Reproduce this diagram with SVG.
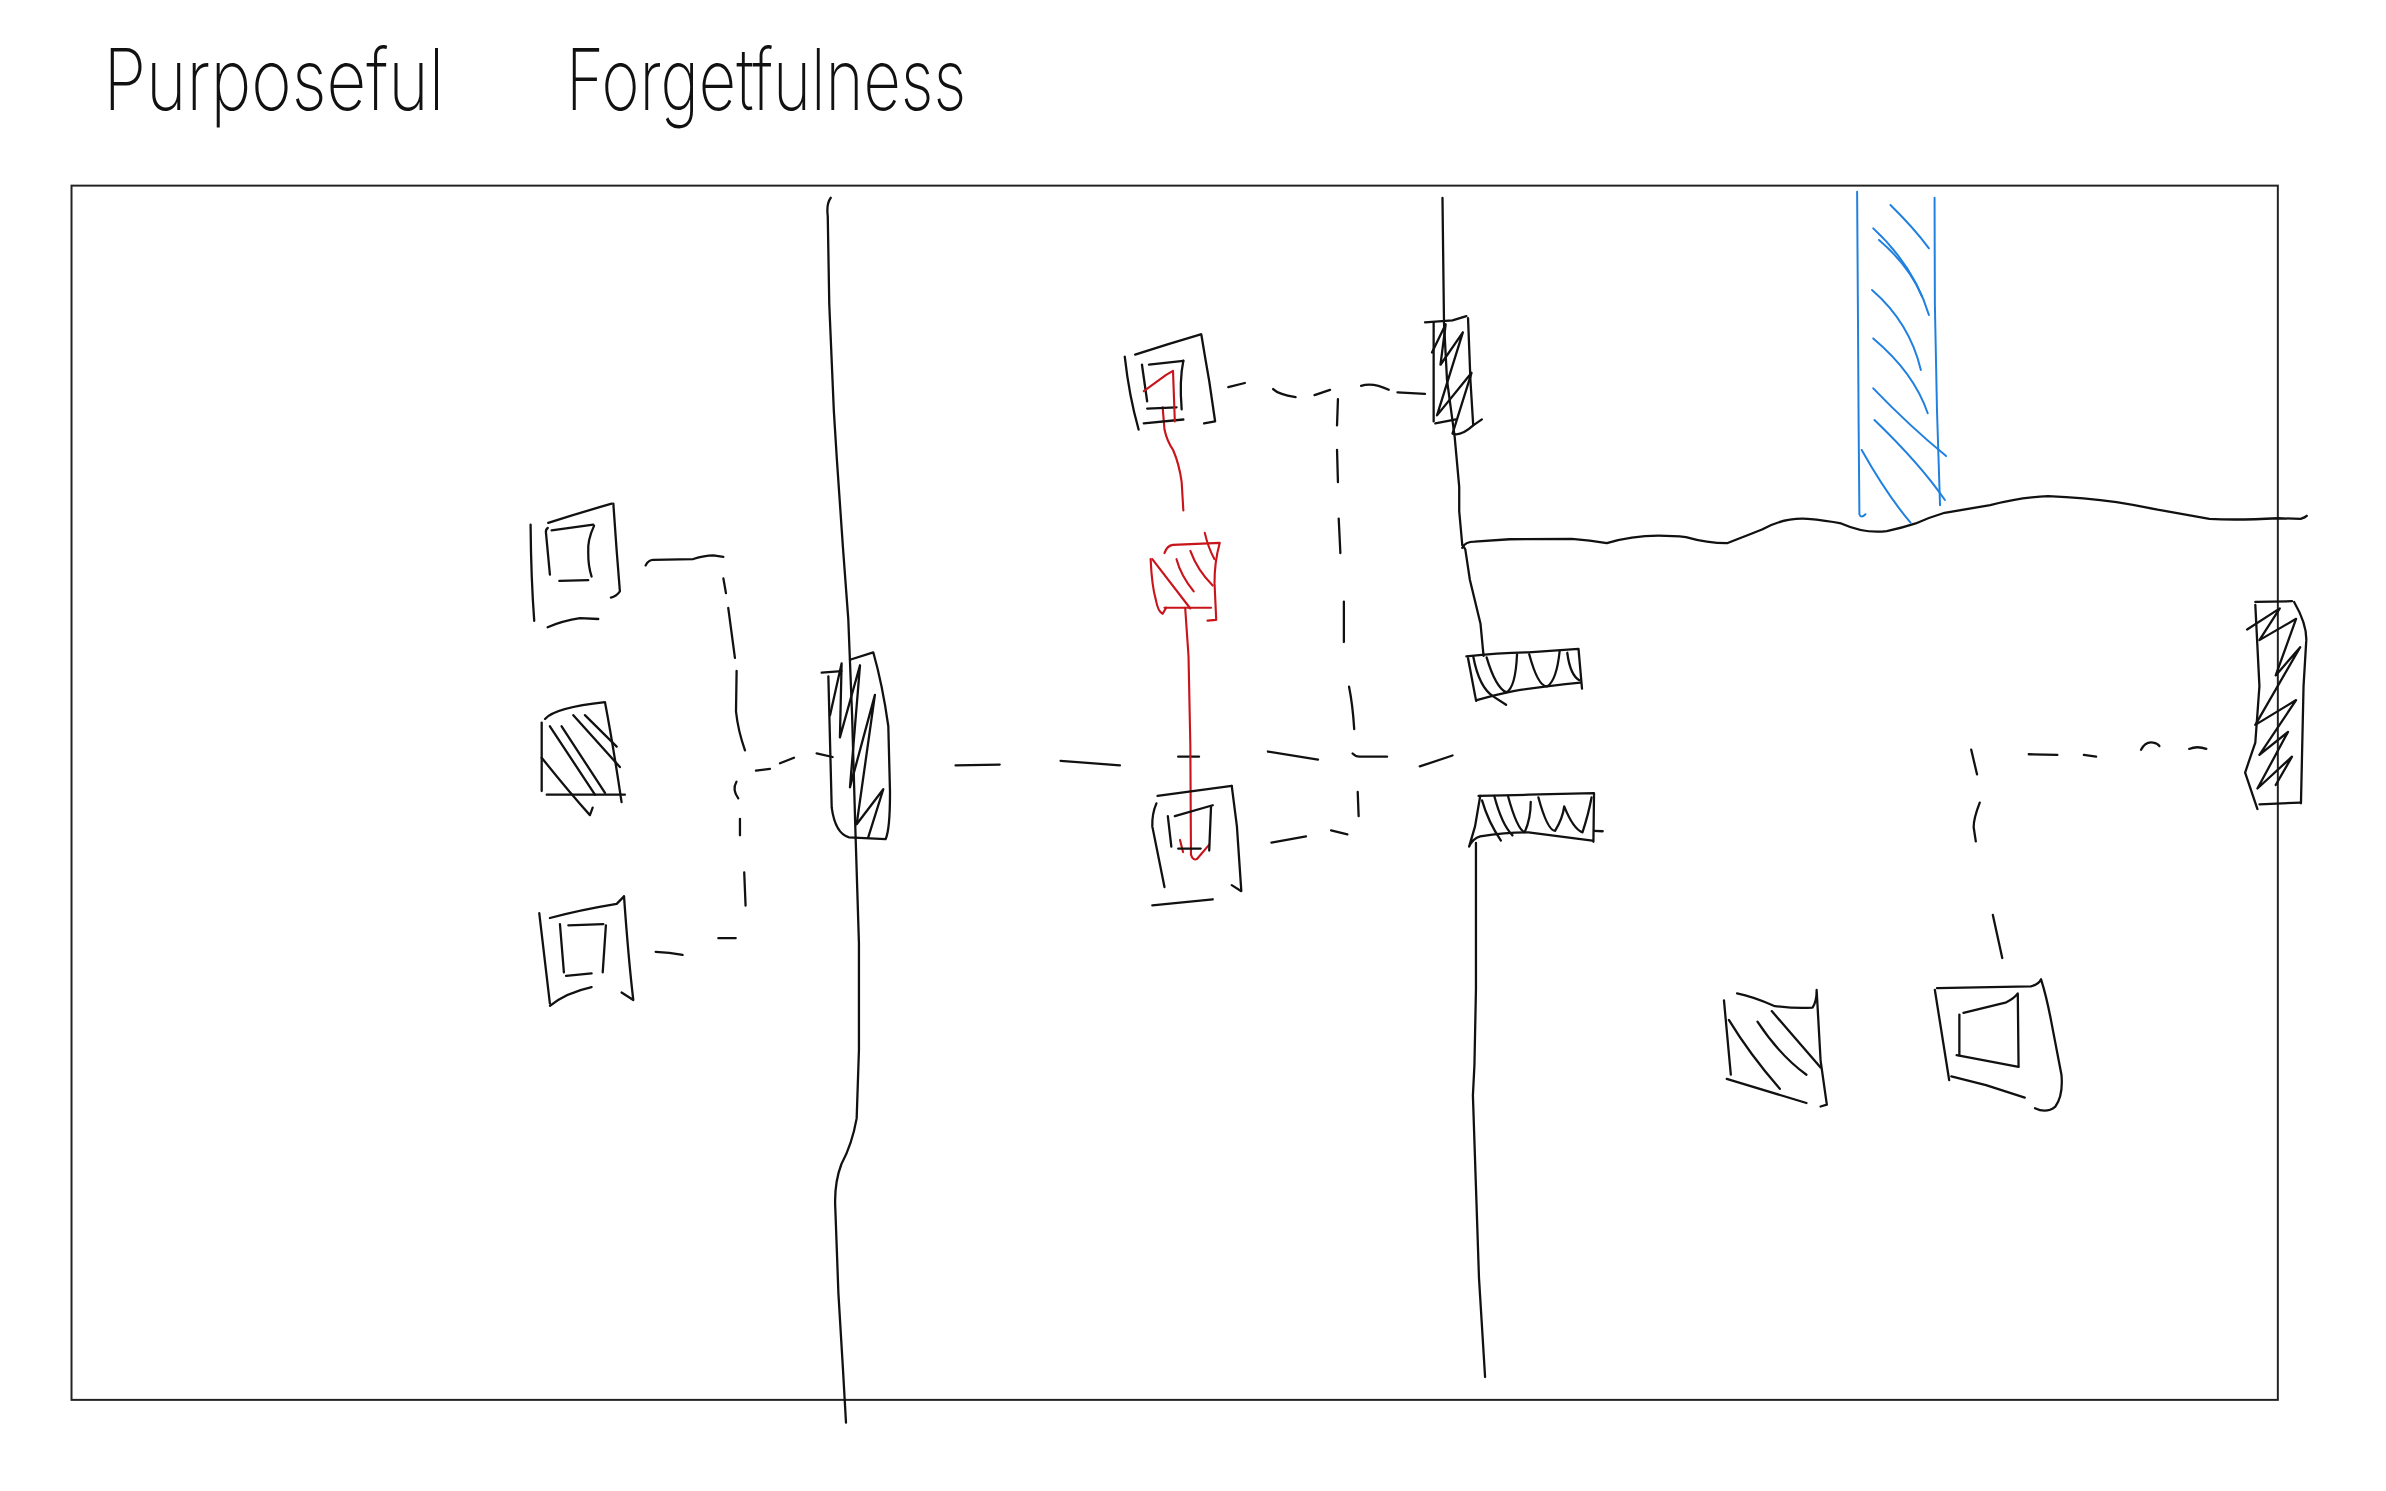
<svg xmlns="http://www.w3.org/2000/svg" width="2386" height="1491" viewBox="0 0 2386 1491">
<style>
.ink{fill:none;stroke:#111;stroke-width:1.5;stroke-linecap:round;stroke-linejoin:round}
.red{fill:none;stroke:#c8141a;stroke-width:1.4;stroke-linecap:round;stroke-linejoin:round}
.blue{fill:none;stroke:#1f80e0;stroke-width:1.3;stroke-linecap:round;stroke-linejoin:round}
.frame{fill:none;stroke:#222;stroke-width:1.3}
.title{font-family:Inter,"DejaVu Sans","Liberation Sans",sans-serif;font-weight:200;font-size:56px;fill:#111}
</style>
<rect x="0" y="0" width="2386" height="1491" fill="#fff"/>
<g transform="scale(1.5216)">
<g id="title">
<text class="title" x="68" y="72" textLength="224" lengthAdjust="spacingAndGlyphs">Purposeful</text>
<text class="title" x="372" y="72" textLength="263" lengthAdjust="spacingAndGlyphs">Forgetfulness</text>
</g>
<g id="walls">
<rect class="frame" x="47" y="122" width="1450" height="798"/>
<path class="ink" d="M546,130 Q543,134 544,142 L545,200 L548,270 L550,302 L554,360 L557.5,407 L560,470 L562,540 L564.5,620 L564.5,690 L563,735 Q560,752 553,765 Q548,778 549,795 L551,850 L554,900 L556,935"/>
<path class="ink" d="M948,130 L949,212 L951,250 L956,287 L959,320 L959,336 L961,358"/>
<path class="ink" d="M961,358 L963,361 L966,381 L973,410 L975,431"/>
<path class="ink" d="M970,554 L970,650 L969,700 L968,720 L970,780 L972,840 L976,905"/>
<path class="ink" d="M961,360 Q963,356 969,356 L992,354.4 L1033,354.2 Q1045,355 1056,357 Q1072,352 1090,352 Q1100,352 1108,353 Q1122,357 1135,357 Q1148,352 1158,348 Q1172,340 1188,341 Q1200,342 1210,344 Q1226,351 1240,349 Q1250,347 1259,344 Q1268,340 1278,337 L1308,332 Q1326,327 1346,326 Q1370,327 1391,330 Q1404,332 1418,335 L1452,341 Q1470,342 1497,340.6 L1512,341 Q1515,340 1516,339"/>
</g>
<g id="river">
<path class="blue" d="M1220.5,126 L1221,200 L1221.5,280 L1222,338 Q1223,341 1226,338"/>
<path class="blue" d="M1271.4,130 L1271.6,200 L1273,270 L1275,332"/>
<path class="blue" d="M1242.4,134.7 Q1258,150 1267.7,163.2"/>
<path class="blue" d="M1231.1,150.1 Q1258,175 1267.7,207"/>
<path class="blue" d="M1234.9,157.7 Q1255,175 1263.2,195"/>
<path class="blue" d="M1230.3,190.6 Q1255,212 1262.4,243.2"/>
<path class="blue" d="M1231.1,222.4 Q1258,245 1266.9,271.6"/>
<path class="blue" d="M1231.1,255.2 Q1255,280 1279,299.7"/>
<path class="blue" d="M1231.9,276 Q1262,305 1278.2,328.6"/>
<path class="blue" d="M1223.5,295.7 Q1240,325 1255.6,343.5"/>
</g>
<g id="connectors">
<path class="ink" d="M424.3,371.6 Q426,368 429.3,367.9 L455.6,367.4 Q463,365 468.8,365 L475.4,366"/>
<path class="ink" d="M475.4,380.1 L477.1,389.8"/>
<path class="ink" d="M478.6,399.5 L483,432.4"/>
<path class="ink" d="M484.1,440.9 L483.7,467.6 Q485,480 489.6,493.1"/>
<path class="ink" d="M484,513.8 Q481,519 485.2,524.7"/>
<path class="ink" d="M486.3,538.1 L486.3,549"/>
<path class="ink" d="M489.1,573.3 L490,595.2"/>
<path class="ink" d="M472.1,616.6 L483.5,616.6"/>
<path class="ink" d="M430.9,625.6 Q440,626 448.6,627.6"/>
<path class="ink" d="M496.8,506.5 L506,505.3"/>
<path class="ink" d="M512.6,501.6 L521.8,498"/>
<path class="ink" d="M536.7,495.1 L547.2,497.5"/>
<path class="ink" d="M628,503 L657,502.5"/>
<path class="ink" d="M697,500 L736,503"/>
<path class="ink" d="M774.3,497.3 L788,497.3"/>
<path class="ink" d="M833.3,493.9 L866.2,499.2"/>
<path class="ink" d="M888.9,495.2 Q891,497.3 893.4,497.3 L911.6,497.3"/>
<path class="ink" d="M933.1,503.7 L954.6,496.5"/>
<path class="ink" d="M807.2,254.4 L818.1,251.7"/>
<path class="ink" d="M836.7,255.7 Q840,259 851.5,261"/>
<path class="ink" d="M863.9,259.7 L874.1,256.2"/>
<path class="ink" d="M894.5,253.6 Q902,251 912.7,256.2"/>
<path class="ink" d="M918.4,257.8 L936.5,258.9"/>
<path class="ink" d="M879.3,262.3 L878.7,279.6"/>
<path class="ink" d="M878.7,295.6 L879.3,316.9"/>
<path class="ink" d="M879.8,340.8 L880.9,363.5"/>
<path class="ink" d="M883.2,395.4 L883.2,422"/>
<path class="ink" d="M886.6,451.3 Q889,463 890,479.2"/>
<path class="ink" d="M892.3,520.5 L892.9,536.4"/>
<path class="ink" d="M835.6,553.7 L858.3,549.7"/>
<path class="ink" d="M874.8,545.7 L885.5,548.4"/>
<path class="ink" d="M1333.3,495.7 L1352.1,496.1"/>
<path class="ink" d="M1369.5,496.1 L1377.6,497.3"/>
<path class="ink" d="M1407.1,492.7 Q1410,487 1415.1,488 Q1418,488.5 1419.2,490.3"/>
<path class="ink" d="M1438.7,492.2 Q1444,490 1450,492.2"/>
<path class="ink" d="M1295.5,492.7 L1299.3,508.9"/>
<path class="ink" d="M1301.1,527.5 Q1297,538 1297.1,543.7 L1298.5,553"/>
<path class="ink" d="M1309.7,601.3 L1315.9,629.6"/>
<path class="red" d="M764.1,267.7 L765.3,282.3 Q767,290 770.9,295.6 Q775,305 776.6,316.9 L777.7,335.5"/>
<path class="red" d="M778.9,399.4 L781.1,431.3 L782.3,489.9 L782.7,561.7 Q784,566 786.8,564.4 L794.7,555.1"/>
<path class="red" d="M775.5,552 L777.5,560"/>
</g>
<g id="node-l1">
<path class="ink" d="M348.7,344.8 Q349,380 351.1,408"/>
<path class="ink" d="M360.3,343.6 Q381,337 402,331"/>
<path class="ink" d="M403.1,331 Q405,360 407.4,388.6 Q405,392 401.5,392.7"/>
<path class="ink" d="M359.9,412.2 Q370,408 381.2,406.3 L393.2,406.8"/>
<path class="ink" d="M360,347 Q358.5,348 358.8,350 L361.4,377.7"/>
<path class="ink" d="M362.5,348.5 L389.9,344.8"/>
<path class="ink" d="M390.4,345.6 Q386,355 386.6,363.1 Q386.5,372 388.8,378.9"/>
<path class="ink" d="M367.6,381.8 L386.6,381.3"/>
</g>
<g id="node-l2">
<path class="ink" d="M356,474.9 L356,519.9"/>
<path class="ink" d="M358.2,472.5 Q365,465 397.6,461.5 Q403,490 408.5,527.2"/>
<path class="ink" d="M359.3,522.3 L410.7,522.3"/>
<path class="ink" d="M356,498 Q373.5,519.9 387.7,535.7 L389.5,530.8"/>
<path class="ink" d="M361.4,477.3 L391,522.3"/>
<path class="ink" d="M369.1,477.3 L397.6,521.1"/>
<path class="ink" d="M376.8,470 L407.4,504.1"/>
<path class="ink" d="M384.4,470 L405.3,490.7"/>
</g>
<g id="node-l3">
<path class="ink" d="M354.4,600.1 L361.4,659.6"/>
<path class="ink" d="M361.4,603.3 Q381,598 405.3,594 L410.1,589.1"/>
<path class="ink" d="M410.1,589.1 Q413,630 416.2,657.2 L408.5,652.3"/>
<path class="ink" d="M361.4,661 Q372,652.4 388.8,648.7"/>
<path class="ink" d="M368,607.4 L370.6,639"/>
<path class="ink" d="M373.5,608.1 L396.5,607.4"/>
<path class="ink" d="M398.2,608.1 L396.1,639"/>
<path class="ink" d="M372,641.4 L388.8,639.7"/>
</g>
<g id="node-wall-left">
<path class="ink" d="M544.4,444.5 L546.6,530.8 Q549,548 558,550.3 L582,551.5 Q585,545 584.9,520 L583.8,477.3 Q580,450 573.9,428.7 L558.6,433.6"/>
<path class="ink" d="M540,442 L553,441"/>
<path class="ink" d="M545.5,470 L553.1,436 L552,484.6 L565.2,437.2 L558.6,517.4 L575,456.7 L563,541.7 L580.5,518.7 L570.6,550.3"/>
</g>
<g id="node-m1">
<path class="ink" d="M739.2,234.4 Q742,260 748.3,282.3"/>
<path class="ink" d="M746,233.1 Q768,226 789.1,219.8"/>
<path class="ink" d="M789.5,219.8 Q792,235 794.7,250.4 L798.6,277 L791.3,278.3"/>
<path class="ink" d="M751.7,278.3 L777.7,275.7"/>
<path class="ink" d="M750.5,239.7 L753.9,263.7"/>
<path class="ink" d="M755.1,239.7 L777.7,237.1"/>
<path class="ink" d="M777.7,237.1 Q775,250 776.6,269"/>
<path class="ink" d="M753.9,268.5 L773.2,267.7"/>
<path class="red" d="M751.7,257 L766.4,246.4 L770.9,243.7 L772.1,277"/>
</g>
<g id="node-m2">
<path class="red" d="M756.2,367.5 Q757,385 759.6,394.1 Q761,402 764.1,403.4 L766.4,399.4"/>
<path class="red" d="M765.3,363.5 Q767,358.5 770.9,358.1 L801.6,356.8 Q798,370 798.2,383.4 L799.3,407.4 L793.6,407.9"/>
<path class="red" d="M765.3,399.4 L795.9,399.4"/>
<path class="red" d="M757.3,367.5 L782.3,399.9"/>
<path class="red" d="M773.2,367.5 Q776,378 784.5,388.7"/>
<path class="red" d="M782.3,362.1 Q787,375 797,384.8"/>
<path class="red" d="M791.8,350.2 Q794,360 798.2,367.5"/>
</g>
<g id="node-m3">
<path class="ink" d="M760,528 Q757,535 757.3,543.1 L765.3,583"/>
<path class="ink" d="M760.7,523.1 L809.5,516.5"/>
<path class="ink" d="M809.5,516.5 L812.9,543.1 L815.8,585.7 L809.5,581.7"/>
<path class="ink" d="M757.3,595 L797,591"/>
<path class="ink" d="M767.5,536.4 L769.8,556.4"/>
<path class="ink" d="M772.1,536.4 L797,529.2"/>
<path class="ink" d="M795.9,529.8 L794.7,559"/>
<path class="ink" d="M774.3,557.7 L789.1,557.7"/>
</g>
<g id="node-wall-top">
<path class="ink" d="M942.2,211.8 L942.2,277"/>
<path class="ink" d="M936.5,211.8 L954.6,210.5 L963.7,207.8"/>
<path class="ink" d="M964.8,209.1 L966.4,250.4 L968.2,279.6"/>
<path class="ink" d="M943.3,278.3 L956.9,275.6"/>
<path class="ink" d="M941.1,231.7 L950.1,213.1 L946.7,239.7 L961.4,218.4 L944.4,273 L967.1,245 L954.6,285 Q960,287 968.2,279.6 L973.9,275.6"/>
</g>
<g id="node-gap-upper">
<path class="ink" d="M964.8,432.6 L970.1,460.6"/>
<path class="ink" d="M963.7,431.3 Q985,429 1004.5,428.7 L1037.4,426.5 L1039.7,452.6"/>
<path class="ink" d="M970.5,460.1 Q985,456 995.5,454 Q1015,451 1038.6,448.6"/>
<path class="ink" d="M968.2,431.3 Q972,452 981.8,458 L989.8,463.2"/>
<path class="ink" d="M977,432 Q983,452 990,455 Q996,452 997,430"/>
<path class="ink" d="M1005,430 Q1011,452 1017,451 Q1023,447 1025,428"/>
<path class="ink" d="M1030,429 Q1032,444 1038,447"/>
</g>
<g id="node-gap-lower">
<path class="ink" d="M971.7,523.1 Q990,522.5 1004.5,522.3 L1047.6,521.3 L1047.2,553.2"/>
<path class="ink" d="M1047.6,546 L1053.3,546.3"/>
<path class="ink" d="M972.8,523.1 L969.4,543.1 L965.5,556.4 Q968,551 972.8,549.7 Q990,547 1004.5,547.1 L1046.5,552.4"/>
<path class="ink" d="M974,526 Q978,540 986.4,552.4"/>
<path class="ink" d="M982,523 Q987,542 994,549"/>
<path class="ink" d="M991,523 Q997,545 1002,547 Q1006,538 1006,527"/>
<path class="ink" d="M1011,524 Q1017,546 1022,546 Q1027,538 1028,530 Q1034,545 1040,547 Q1044,535 1046,524"/>
</g>
<g id="node-wall-right">
<path class="ink" d="M1482.2,397.5 L1484.9,450.9 L1482.2,488 L1475.5,507.7 L1483.6,531.7"/>
<path class="ink" d="M1482.2,395.6 L1506.3,395.1"/>
<path class="ink" d="M1507.7,395.6 Q1516,410 1515.7,420.7 L1513.9,450.9 L1512.2,527.9"/>
<path class="ink" d="M1484.9,528.6 L1511.7,527.5"/>
<path class="ink" d="M1476.8,413.7 L1498.3,399.8 L1484.9,420.7 L1509,406.7 L1495.6,443.9 L1511.7,425.3 L1482.2,476.4 L1509,460.1 L1484.9,496.1 L1503.7,481 L1483.6,518.2 L1506.3,497.3 L1495.6,515.9"/>
</g>
<g id="node-r1">
<path class="ink" d="M1133,657.5 L1137.5,706.3"/>
<path class="ink" d="M1141.6,652.9 Q1152,655 1165.7,661 Q1180,663 1191.2,662.2 Q1194,658 1193.9,650.6 L1196.5,697 L1200.6,726 L1196.5,727.2"/>
<path class="ink" d="M1134.8,709.1 L1187.2,724.9"/>
<path class="ink" d="M1136.2,670.3 Q1150,693 1169.7,715.6"/>
<path class="ink" d="M1155,671.4 Q1170,694 1187.2,706.3"/>
<path class="ink" d="M1164.4,664.5 L1196.5,701.6"/>
</g>
<g id="node-r2">
<path class="ink" d="M1271.6,650.6 L1281,709.8"/>
<path class="ink" d="M1273,649.4 L1334.7,648.2 Q1340,647 1341.4,643.6 Q1345,655 1348.1,671.4 L1354.8,706.3 Q1356,720 1350.8,727.2 Q1345,732 1337.4,728.3"/>
<path class="ink" d="M1282.4,707.4 L1305.2,713.2 L1330.7,721.4"/>
<path class="ink" d="M1287.7,666.8 L1287.7,693.5"/>
<path class="ink" d="M1290.4,665.6 L1318.6,658.7 Q1324,656 1326.1,652.9 L1326.6,700.5"/>
<path class="ink" d="M1285.9,693.5 L1326.6,701.2"/>
</g>
</g>
</svg>
